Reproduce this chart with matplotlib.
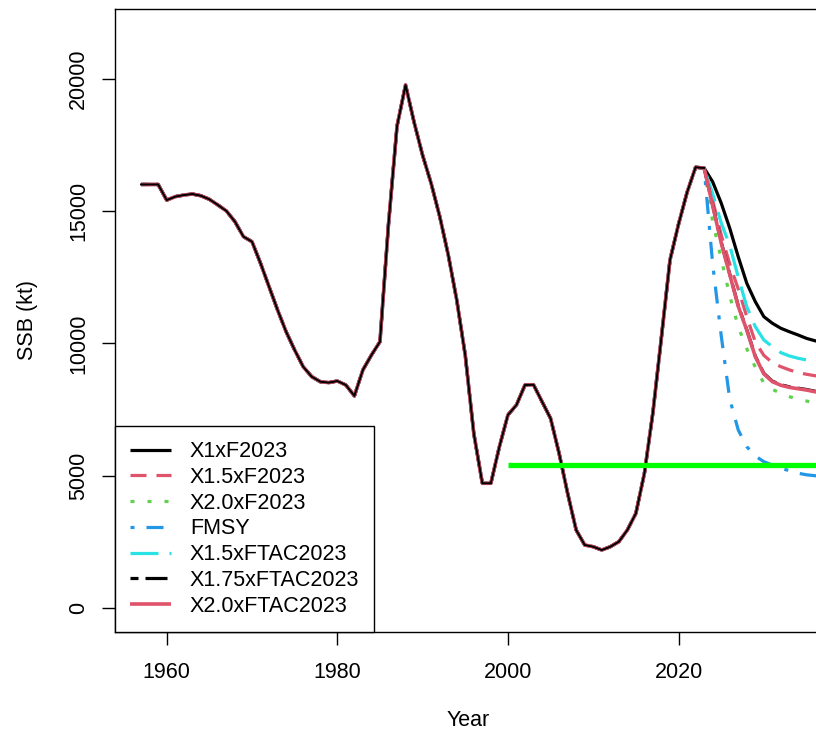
import numpy as np
import matplotlib
matplotlib.use("Agg")
import matplotlib.pyplot as plt

# -----------------------------
# DATA
# -----------------------------
hist_years = np.arange(1957, 2024)
ssb_hist = [
    16000, 16000, 16000, 15410, 15540, 15600, 15640, 15575, 15440, 15225,
    15000, 14595, 14030, 13840, 13025, 12140, 11260, 10440, 9750, 9120,
    8745, 8555, 8520, 8580, 8430, 8020, 9000, 9560, 10065, 14500,
    18200, 19755, 18350, 17100, 16040, 14800, 13350, 11640, 9550, 6600,
    4720, 4720, 6100, 7300, 7675, 8430, 8440, 7800, 7170, 5850,
    4340, 2955, 2390, 2325, 2200, 2325, 2515, 2955, 3585, 5100,
    7400, 10250, 13150, 14500, 15700, 16650, 16620,
]

proj_years = np.arange(2024, 2038)
x1_f2023 = [16100, 15300, 14350, 13270, 12270, 11575, 11010, 10760, 10570, 10440, 10320, 10190, 10100, 10020]
x15_f2023 = [15400, 14100, 13000, 12050, 11010, 10050, 9550, 9270, 9120, 9000, 8900, 8835, 8780, 8730]
x20_f2023 = [14600, 13200, 11800, 10630, 9800, 9100, 8500, 8265, 8115, 7990, 7890, 7825, 7760, 7710]
fmsy = [13000, 10300, 7900, 6730, 6100, 5750, 5535, 5410, 5285, 5195, 5100, 5040, 5005, 4980]
x15_ftac = [15650, 14550, 13700, 12500, 11385, 10630, 10130, 9875, 9650, 9525, 9440, 9375, 9290, 9230]
x175_ftac = [15220, 13830, 12620, 11420, 10520, 9520, 8870, 8575, 8440, 8360, 8310, 8260, 8195, 8150]
x20_ftac = [15200, 13800, 12600, 11400, 10500, 9500, 8850, 8555, 8420, 8340, 8290, 8240, 8175, 8130]

blim_years = [2000, 2037]
blim = [5400, 5400]

labels = ["X1xF2023", "X1.5xF2023", "X2.0xF2023", "FMSY",
          "X1.5xFTAC2023", "X1.75xFTAC2023", "X2.0xFTAC2023"]
series = [x1_f2023, x15_f2023, x20_f2023, fmsy, x15_ftac, x175_ftac, x20_ftac]
colors = ["#000000", "#DF536B", "#61D04F", "#2297E6", "#28E2E5", "#000000", "#DF536B"]

# dash patterns in pixels (converted to points below)
PX = 0.72
dash_px = [
    None,
    (16, 10),
    (4, 13),
    (4, 12, 17, 12),
    (28, 11),
    (8, 7, 22, 7),
    None,
]

# -----------------------------
# STYLE
# -----------------------------
plt.rcParams["font.family"] = ["Liberation Sans", "DejaVu Sans"]
plt.rcParams["lines.scale_dashes"] = False
FS = 15.5

fig = plt.figure(figsize=(8.16, 7.36), dpi=100)
W, H = 816, 736
left, right, top, bottom = 115, 821, 9, 631.7
ax = fig.add_axes([left / W, (H - bottom) / H, (right - left) / W, (bottom - top) / H])

years_all = np.concatenate([hist_years, proj_years])
for vals, col, dp, lab in zip(series, colors, dash_px, labels):
    y = np.concatenate([ssb_hist, vals])
    ls = "-" if dp is None else (0, tuple(d * PX for d in dp))
    lw = 2.6 if lab == "X2.0xFTAC2023" else 2.3
    ax.plot(years_all, y, color=col, lw=lw, linestyle=ls, label=lab,
            dash_capstyle="butt", solid_capstyle="butt")

# assessment history on top
ax.plot(hist_years, ssb_hist, color="black", lw=1.5)

ax.plot(blim_years, blim, color="#00FF00", lw=3.8, solid_capstyle="butt")

ax.set_xlim(1953.94, 2036.7)
ax.set_ylim(-883, 22624)
ax.set_xticks([1960, 1980, 2000, 2020])
ax.set_yticks([0, 5000, 10000, 15000, 20000])

for s in ax.spines.values():
    s.set_linewidth(1.0)
ax.tick_params(length=9.7, width=1.0, labelsize=FS, direction="out")
ax.tick_params(axis="x", pad=12)
ax.tick_params(axis="y", pad=9, labelrotation=90)
for t in ax.get_yticklabels():
    t.set_va("center")

ax.set_xlabel("Year", fontsize=FS)
ax.xaxis.set_label_coords(0.5, (bottom - 720) / (bottom - top))
ax.xaxis.label.set_va("center")
ax.set_ylabel("SSB (kt)", fontsize=FS)
ax.yaxis.set_label_coords((27 - left) / (right - left), 0.5)
ax.yaxis.label.set_va("center")

leg = ax.legend(loc="lower left", bbox_to_anchor=(0, 0), borderaxespad=0,
                fontsize=FS, frameon=True, fancybox=False, framealpha=1,
                edgecolor="black", handlelength=1.9, handletextpad=0.88,
                borderpad=0.7, labelspacing=0.22)
leg.get_frame().set_linewidth(1.0)

fig.savefig("out.png", dpi=100)
